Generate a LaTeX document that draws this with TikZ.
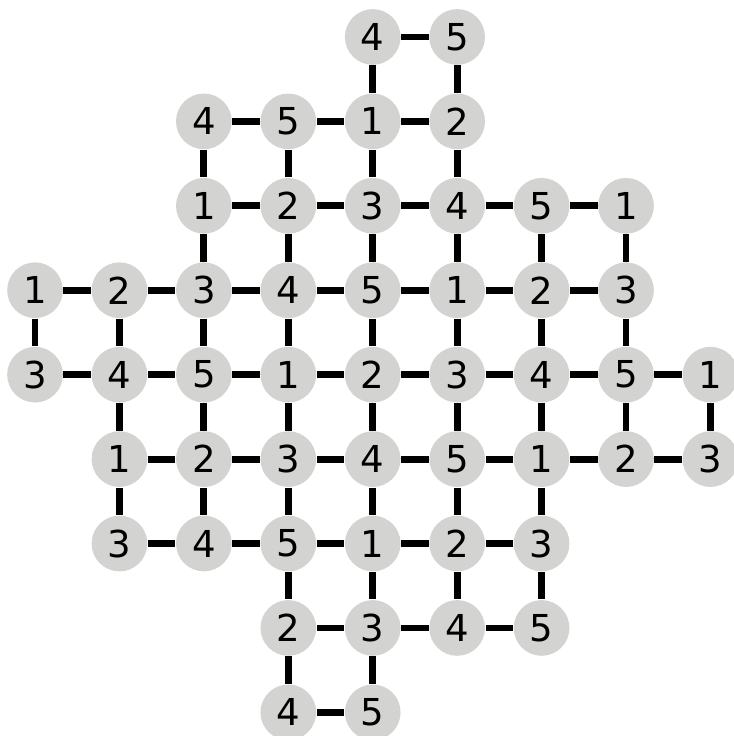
\documentclass[tikz,border=0pt]{standalone}
\usepackage{fontspec}
\setmainfont{DejaVu Sans}
\usetikzlibrary{backgrounds}
\definecolor{vgray}{HTML}{D3D4D1}

\begin{document}
\begin{tikzpicture}[
  x=1cm, y=-1cm,
  vert/.style={circle, fill=vgray, minimum size=6.6mm, inner sep=0pt,
               font=\fontsize{12.5}{14}\selectfont},
  link/.style={line width=2.3pt, draw=black},
]
% ---- frame ----
\useasboundingbox (-0.415,-0.438) rectangle (8.27,8.28);

% ---- vertices, row by row (col/label) ----
\foreach \c/\v in {4/4,5/5}                             {\node[vert] (n0\c) at (\c,0) {\v};}
\foreach \c/\v in {2/4,3/5,4/1,5/2}                     {\node[vert] (n1\c) at (\c,1) {\v};}
\foreach \c/\v in {2/1,3/2,4/3,5/4,6/5,7/1}             {\node[vert] (n2\c) at (\c,2) {\v};}
\foreach \c/\v in {0/1,1/2,2/3,3/4,4/5,5/1,6/2,7/3}     {\node[vert] (n3\c) at (\c,3) {\v};}
\foreach \c/\v in {0/3,1/4,2/5,3/1,4/2,5/3,6/4,7/5,8/1} {\node[vert] (n4\c) at (\c,4) {\v};}
\foreach \c/\v in {1/1,2/2,3/3,4/4,5/5,6/1,7/2,8/3}     {\node[vert] (n5\c) at (\c,5) {\v};}
\foreach \c/\v in {1/3,2/4,3/5,4/1,5/2,6/3}             {\node[vert] (n6\c) at (\c,6) {\v};}
\foreach \c/\v in {3/2,4/3,5/4,6/5}                     {\node[vert] (n7\c) at (\c,7) {\v};}
\foreach \c/\v in {3/4,4/5}                             {\node[vert] (n8\c) at (\c,8) {\v};}

% ---- edges (behind the vertices) ----
\begin{scope}[on background layer]
  % horizontal: row / first col / last col of left ends
  \foreach \r/\a/\b in {0/4/4,1/2/4,2/2/6,3/0/6,4/0/7,5/1/7,6/1/5,7/3/5,8/3/3}{
    \foreach \c in {\a,...,\b}{
      \pgfmathtruncatemacro\d{\c+1}
      \draw[link] (n\r\c) -- (n\r\d);
    }
  }
  % vertical: upper row / first col / last col
  \foreach \r/\a/\b in {0/4/5,1/2/5,2/2/7,3/0/7,4/1/8,5/1/6,6/3/6,7/3/4}{
    \pgfmathtruncatemacro\s{\r+1}
    \foreach \c in {\a,...,\b}{
      \draw[link] (n\r\c) -- (n\s\c);
    }
  }
\end{scope}
\end{tikzpicture}
\end{document}
